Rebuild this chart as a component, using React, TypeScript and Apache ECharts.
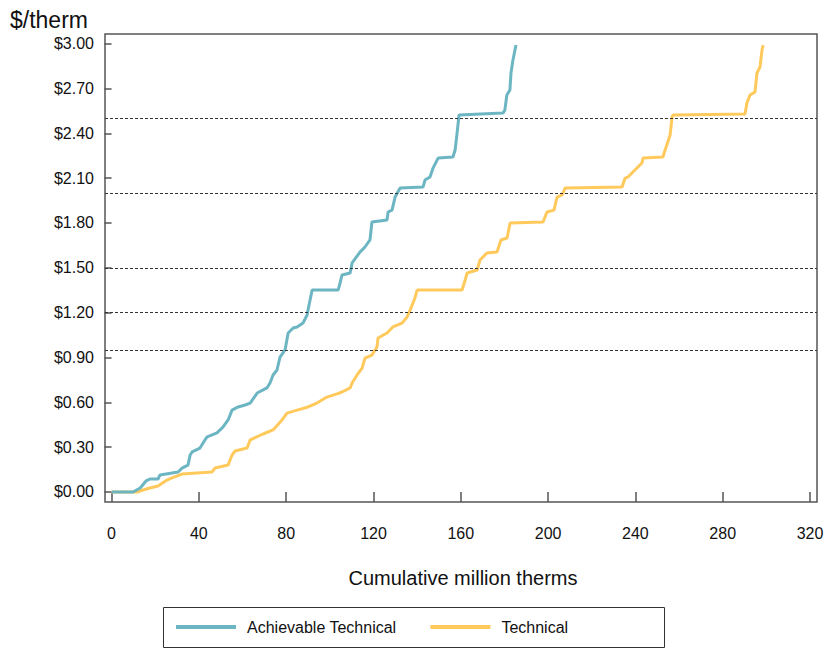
import React, { useEffect, useRef } from "react";
import * as echarts from "echarts";

const seriesNames = ["Achievable Technical", "Technical"];

// [cumulative million therms, $/therm]
const achievable: number[][] = [
  [0, 0], [9.85, 0], [13.1, 0.027], [15.8, 0.074], [17.6, 0.087], [21.3, 0.087], [22.2, 0.114],
  [30.5, 0.134], [32.3, 0.16], [35.0, 0.18], [36.0, 0.247], [36.9, 0.268], [40.5, 0.294],
  [42.8, 0.348], [43.8, 0.368], [48.3, 0.395], [51.1, 0.435], [53.4, 0.482], [55.2, 0.548],
  [58.0, 0.569], [61.2, 0.582], [63.5, 0.595], [66.7, 0.662], [71.2, 0.696], [72.6, 0.729],
  [74.0, 0.783], [75.8, 0.816], [77.2, 0.903], [79.5, 0.95], [80.9, 1.064], [83.2, 1.097],
  [85.0, 1.104], [87.7, 1.13], [89.6, 1.184], [90.0, 1.217], [91.9, 1.351], [103.8, 1.351],
  [104.7, 1.398], [105.6, 1.452], [109.3, 1.465], [110.2, 1.532], [113.8, 1.605], [116.1, 1.639],
  [118.4, 1.686], [119.3, 1.806], [126.2, 1.82], [126.7, 1.873], [128.5, 1.886], [129.9, 1.973],
  [132.2, 2.033], [142.7, 2.04], [143.6, 2.087], [145.9, 2.107], [147.3, 2.167], [149.6, 2.234],
  [156.4, 2.241], [157.4, 2.288], [158.3, 2.401], [159.2, 2.522], [179.3, 2.535], [180.2, 2.555],
  [181.1, 2.656], [182.5, 2.689], [183.0, 2.803], [183.9, 2.89], [185.3, 2.99],
];

const technical: number[][] = [
  [0, 0], [11.7, 0], [14.4, 0.013], [17.6, 0.027], [21.3, 0.04], [25.4, 0.08], [27.7, 0.094],
  [32.3, 0.12], [46.0, 0.134], [47.4, 0.16], [53.4, 0.18], [55.2, 0.247], [56.6, 0.274],
  [62.1, 0.294], [63.5, 0.348], [69.4, 0.388], [74.0, 0.415], [78.1, 0.482], [80.4, 0.528],
  [85.0, 0.548], [90.0, 0.569], [94.1, 0.595], [98.7, 0.635], [103.3, 0.656], [105.6, 0.669],
  [109.3, 0.696], [110.2, 0.729], [112.5, 0.783], [114.8, 0.829], [116.1, 0.896], [119.3, 0.916],
  [121.6, 0.97], [122.1, 1.03], [126.2, 1.064], [128.9, 1.104], [133.1, 1.13], [135.4, 1.171],
  [136.8, 1.217], [139.0, 1.298], [140.0, 1.351], [160.6, 1.351], [162.0, 1.418], [162.9, 1.465],
  [167.5, 1.485], [168.8, 1.552], [172.0, 1.599], [176.6, 1.605], [178.4, 1.686], [181.2, 1.699],
  [182.6, 1.799], [197.7, 1.806], [199.5, 1.873], [202.7, 1.886], [204.1, 1.973], [206.4, 1.987],
  [207.8, 2.033], [233.9, 2.04], [235.3, 2.1], [236.6, 2.107], [239.8, 2.154], [243.0, 2.201],
  [243.5, 2.234], [252.6, 2.241], [253.6, 2.288], [255.0, 2.348], [255.9, 2.388], [256.8, 2.508],
  [257.2, 2.522], [290.2, 2.528], [291.1, 2.602], [292.5, 2.656], [294.8, 2.676], [295.7, 2.803],
  [297.1, 2.843], [298.0, 2.957], [298.5, 2.99],
];

const xTicks = [0, 40, 80, 120, 160, 200, 240, 280, 320];
const yTicks = [0, 0.3, 0.6, 0.9, 1.2, 1.5, 1.8, 2.1, 2.4, 2.7, 3.0];
const refLines = [0.95, 1.2, 1.5, 2.0, 2.5];

const colors = ["#6cb5c2", "#ffc95c"];
const FONT = "'Liberation Sans', Arial, sans-serif";

export default function App() {
  const ref = useRef<HTMLDivElement>(null);

  useEffect(() => {
    if (!ref.current) return;
    const chart = echarts.init(ref.current, undefined, { renderer: "svg" });
    chart.setOption({
      animation: false,
      backgroundColor: "#ffffff",
      grid: {
        left: 105,
        top: 34,
        width: 712,
        height: 468,
        show: true,
        borderColor: "#555",
        borderWidth: 1.5,
        backgroundColor: "transparent",
      },
      xAxis: {
        type: "value",
        min: -3,
        max: 323.2,
        offset: 1,
        axisLine: { show: false },
        splitLine: { show: false },
        axisTick: {
          show: true,
          customValues: xTicks,
          length: 10,
          lineStyle: { color: "#555", width: 1.5 },
        },
        axisLabel: {
          customValues: xTicks,
          margin: 22,
          fontSize: 16,
          color: "#111",
          fontFamily: FONT,
        },
      },
      yAxis: {
        type: "value",
        min: -0.067,
        max: 3.064,
        offset: 1,
        axisLine: { show: false },
        splitLine: { show: false },
        axisTick: {
          show: true,
          customValues: yTicks,
          length: 7,
          lineStyle: { color: "#555", width: 1.5 },
        },
        axisLabel: {
          customValues: yTicks,
          margin: 10,
          fontSize: 16,
          color: "#111",
          fontFamily: FONT,
          formatter: (v: number) => "$" + v.toFixed(2),
        },
      },
      legend: {
        left: 176,
        top: 619,
        padding: 0,
        itemWidth: 60,
        itemHeight: 4,
        itemGap: 34,
        icon: "rect",
        data: seriesNames,
        textStyle: {
          fontSize: 16,
          color: "#111",
          fontFamily: FONT,
          padding: [0, 0, 0, 6],
        },
      },
      graphic: [
        {
          type: "text",
          left: 10,
          top: 8,
          style: { text: "$/therm", fontSize: 23, fill: "#111", fontFamily: FONT },
        },
        {
          type: "text",
          x: 463,
          y: 578,
          style: {
            text: "Cumulative million therms",
            fontSize: 20,
            fill: "#111",
            fontFamily: FONT,
            textAlign: "center",
            textVerticalAlign: "middle",
          },
        },
        {
          type: "rect",
          shape: { x: 163.5, y: 607.5, width: 501, height: 40 },
          style: { fill: "none", stroke: "#333", lineWidth: 1 },
        },
      ],
      series: [
        {
          name: seriesNames[0],
          type: "line",
          data: achievable,
          showSymbol: false,
          symbol: "none",
          lineStyle: { color: colors[0], width: 3 },
          itemStyle: { color: colors[0] },
          z: 3,
        },
        {
          name: seriesNames[1],
          type: "line",
          data: technical,
          showSymbol: false,
          symbol: "none",
          lineStyle: { color: colors[1], width: 3 },
          itemStyle: { color: colors[1] },
          z: 2,
          markLine: {
            silent: true,
            symbol: "none",
            label: { show: false },
            lineStyle: { color: "#333", width: 1, type: [3, 2] },
            data: refLines.map((v) => ({ yAxis: v })),
          },
        },
      ],
    });
    return () => chart.dispose();
  }, []);

  return (
    <div
      ref={ref}
      style={{ position: "absolute", left: 0, top: 0, width: 828, height: 648 }}
    />
  );
}
